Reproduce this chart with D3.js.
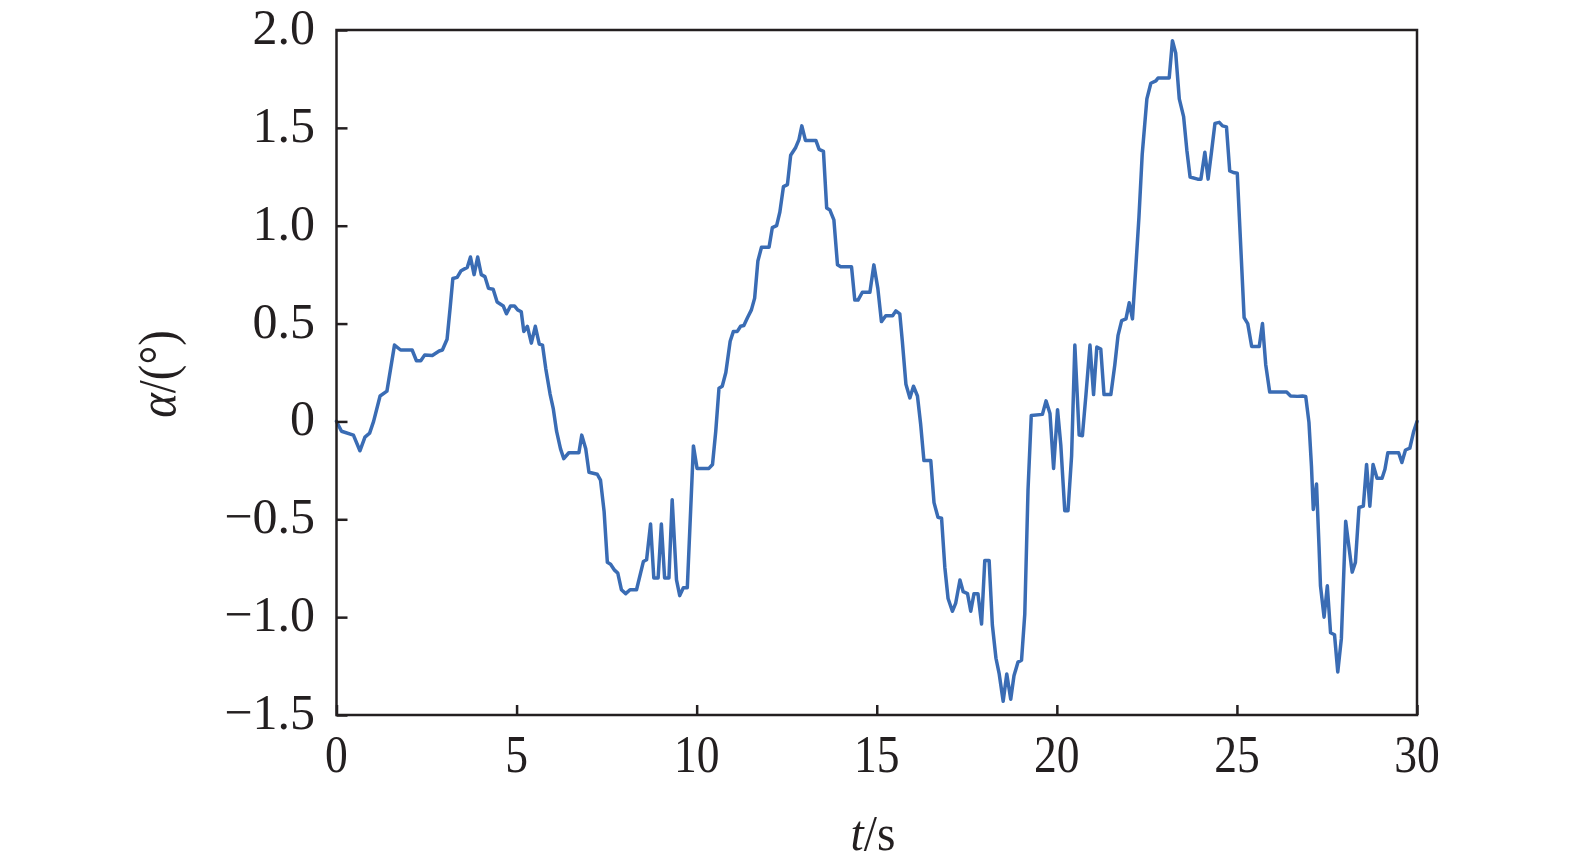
<!DOCTYPE html>
<html><head><meta charset="utf-8">
<script src="https://cdn.jsdelivr.net/npm/d3@7"></script>
<style>html,body{margin:0;padding:0;background:#fff;}svg{display:block;}</style>
</head><body>
<script>
const times = [0,0.14,0.47,0.65,0.79,0.92,1.03,1.21,1.40,1.61,1.78,2.10,2.22,2.34,2.45,2.66,2.85,2.94,3.07,3.16,3.23,3.35,3.46,3.63,3.72,3.82,3.92,4.02,4.12,4.22,4.35,4.46,4.63,4.72,4.83,4.94,5.03,5.13,5.20,5.30,5.41,5.52,5.63,5.72,5.81,5.93,6.02,6.11,6.22,6.31,6.45,6.73,6.81,6.92,7.01,7.24,7.33,7.43,7.52,7.61,7.72,7.81,7.91,8.03,8.15,8.33,8.52,8.61,8.72,8.81,8.93,9.02,9.11,9.23,9.32,9.44,9.53,9.63,9.74,9.91,10.01,10.34,10.44,10.53,10.62,10.71,10.81,10.93,11.02,11.13,11.22,11.31,11.41,11.52,11.61,11.70,11.80,12.01,12.10,12.22,12.31,12.41,12.52,12.61,12.75,12.84,12.92,13.02,13.31,13.40,13.52,13.61,13.70,13.81,13.91,14.00,14.30,14.39,14.48,14.60,14.81,14.92,15.03,15.13,15.25,15.44,15.53,15.64,15.71,15.81,15.92,16.02,16.13,16.22,16.31,16.50,16.59,16.70,16.80,16.89,16.98,17.10,17.19,17.31,17.40,17.52,17.61,17.70,17.81,17.91,18.00,18.12,18.21,18.31,18.40,18.51,18.61,18.72,18.81,18.92,19.02,19.11,19.20,19.29,19.60,19.70,19.81,19.91,20.02,20.11,20.22,20.31,20.41,20.50,20.62,20.71,20.81,20.92,21.02,21.11,21.22,21.31,21.50,21.61,21.70,21.80,21.92,22.01,22.10,22.19,22.28,22.37,22.50,22.61,22.75,22.81,23.12,23.21,23.30,23.40,23.52,23.61,23.70,23.91,24.00,24.11,24.20,24.30,24.39,24.51,24.60,24.71,24.80,24.90,25.01,25.20,25.30,25.41,25.62,25.71,25.80,25.91,26.08,26.38,26.49,26.68,26.82,26.91,27.00,27.07,27.12,27.21,27.28,27.32,27.42,27.51,27.60,27.71,27.80,27.90,28.02,28.11,28.20,28.29,28.39,28.51,28.60,28.69,28.78,28.89,29.03,29.11,29.19,29.49,29.58,29.68,29.80,29.91,30.00];
const alpha = [0,-0.05,-0.07,-0.15,-0.08,-0.06,0,0.13,0.155,0.39,0.365,0.365,0.31,0.31,0.34,0.337,0.36,0.365,0.42,0.59,0.73,0.736,0.77,0.787,0.84,0.75,0.84,0.75,0.74,0.68,0.675,0.61,0.59,0.55,0.59,0.59,0.57,0.56,0.46,0.486,0.40,0.486,0.395,0.39,0.27,0.14,0.064,-0.05,-0.14,-0.19,-0.16,-0.16,-0.07,-0.14,-0.26,-0.27,-0.30,-0.46,-0.72,-0.73,-0.76,-0.775,-0.86,-0.88,-0.86,-0.86,-0.716,-0.707,-0.524,-0.80,-0.80,-0.524,-0.80,-0.80,-0.40,-0.81,-0.89,-0.85,-0.85,-0.125,-0.24,-0.24,-0.22,-0.05,0.17,0.18,0.25,0.41,0.46,0.46,0.486,0.49,0.53,0.57,0.63,0.82,0.89,0.89,0.99,1.00,1.07,1.20,1.21,1.36,1.40,1.44,1.51,1.436,1.436,1.39,1.38,1.09,1.08,1.03,0.80,0.79,0.79,0.62,0.62,0.66,0.66,0.80,0.68,0.51,0.54,0.54,0.565,0.55,0.41,0.19,0.12,0.18,0.13,-0.016,-0.20,-0.20,-0.415,-0.49,-0.495,-0.745,-0.905,-0.97,-0.93,-0.81,-0.87,-0.88,-0.97,-0.88,-0.88,-1.035,-0.71,-0.71,-1.04,-1.21,-1.29,-1.43,-1.29,-1.42,-1.30,-1.23,-1.22,-0.985,-0.35,0.03,0.036,0.105,0.04,-0.24,0.06,-0.12,-0.456,-0.456,-0.176,0.39,-0.07,-0.073,0.14,0.39,0.137,0.38,0.37,0.137,0.137,0.29,0.44,0.515,0.524,0.606,0.524,0.78,1.044,1.363,1.648,1.728,1.74,1.755,1.755,1.945,1.883,1.648,1.557,1.386,1.249,1.238,1.238,1.375,1.238,1.386,1.523,1.528,1.51,1.505,1.28,1.272,1.268,0.53,0.50,0.383,0.383,0.50,0.29,0.15,0.15,0.15,0.13,0.128,0.13,0.128,-0.005,-0.23,-0.45,-0.32,-0.64,-0.84,-1.0,-0.84,-1.08,-1.09,-1.28,-1.11,-0.51,-0.64,-0.77,-0.72,-0.44,-0.433,-0.22,-0.433,-0.22,-0.29,-0.29,-0.244,-0.16,-0.16,-0.21,-0.146,-0.137,-0.05,0];
const xTicks = [0,5,10,15,20,25,30];
const yTicks = [-1.5,-1.0,-0.5,0,0.5,1.0,1.5,2.0];
const yTickLabels = ["\u22121.5","\u22121.0","\u22120.5","0","0.5","1.0","1.5","2.0"];

const W = 1575, H = 867;
const m = {left: 336.5, right: 1417, top: 30, bottom: 715};
const FONT = "'Liberation Serif','Times New Roman',serif";

const svg = d3.select("body").append("svg").attr("width", W).attr("height", H);
const x = d3.scaleLinear().domain([0,30]).range([m.left, m.right]);
const y = d3.scaleLinear().domain([-1.5,2.0]).range([m.bottom, m.top]);

// line
const data = times.map((t,i)=>({t, v: alpha[i]}));
svg.append("path").datum(data)
  .attr("fill","none").attr("stroke","#3a6cb4").attr("stroke-width",3.5)
  .attr("stroke-linejoin","round").attr("stroke-linecap","round")
  .attr("d", d3.line().x(d=>x(d.t)).y(d=>y(d.v)));

// axes (ticks inward)
const xAxis = svg.append("g").attr("transform",`translate(0,${m.bottom})`)
  .call(d3.axisBottom(x).tickValues(xTicks).tickSize(-10).tickFormat(""));
const yAxis = svg.append("g").attr("transform",`translate(${m.left},0)`)
  .call(d3.axisLeft(y).tickValues(yTicks).tickSize(-11).tickFormat(""));
[xAxis,yAxis].forEach(g=>{
  g.select(".domain").remove();
  g.selectAll(".tick line").attr("stroke","#231f20").attr("stroke-width",2.5);
});
// frame
svg.append("rect").attr("x",m.left).attr("y",m.top)
  .attr("width",m.right-m.left).attr("height",m.bottom-m.top)
  .attr("fill","none").attr("stroke","#231f20").attr("stroke-width",2.5);

// tick labels
svg.append("g").selectAll("text").data(xTicks).join("text")
  .attr("transform", d=>`translate(${x(d)},772) scale(0.86,1)`)
  .attr("text-anchor","middle").attr("font-family",FONT).attr("font-size",53)
  .attr("fill","#231f20").text(d=>d);
svg.append("g").selectAll("text").data(yTicks).join("text")
  .attr("transform", d=>`translate(315,${y(d)+14})`)
  .attr("text-anchor","end").attr("font-family",FONT).attr("font-size",50)
  .attr("fill","#231f20").text((d,i)=>yTickLabels[i]);

// axis titles
const yt = svg.append("text").attr("transform","translate(175,374) rotate(-90) scale(0.9,1)")
  .attr("text-anchor","middle").attr("font-family",FONT).attr("font-size",52).attr("fill","#231f20");
yt.append("tspan").attr("font-style","italic").text("\u03b1");
yt.append("tspan").text("/(\u00b0)");
const xt = svg.append("text").attr("transform","translate(873,850) scale(0.95,1)")
  .attr("text-anchor","middle").attr("font-family",FONT).attr("font-size",50).attr("fill","#231f20");
xt.append("tspan").attr("font-style","italic").text("t");
xt.append("tspan").text("/s");
</script>
</body></html>
